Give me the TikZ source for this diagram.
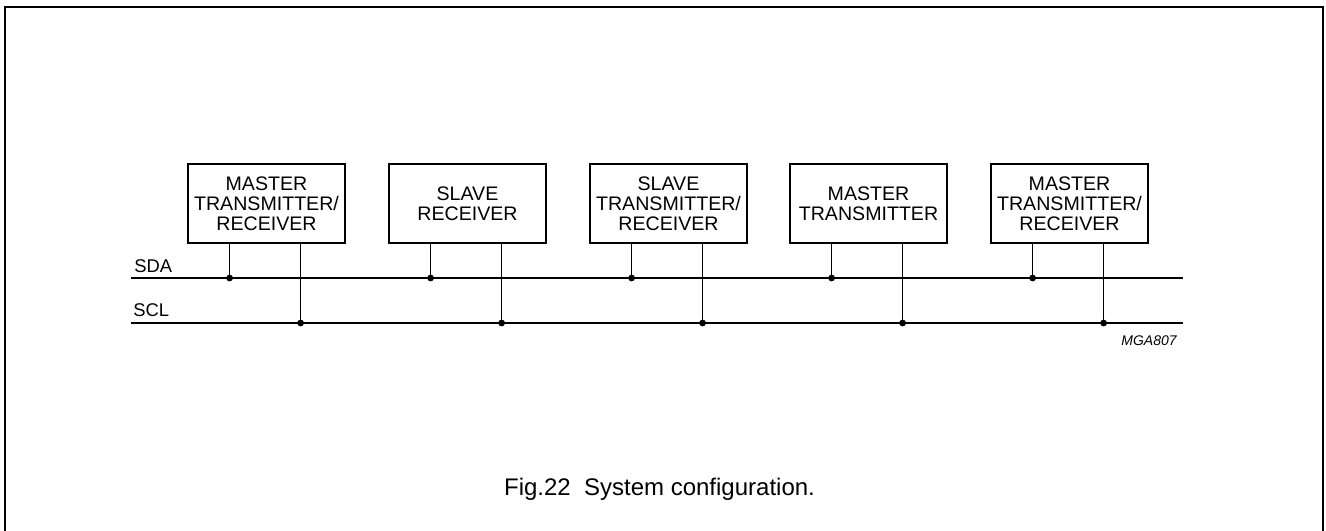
\documentclass[tikz,border=0pt]{standalone}
\usepackage{fontspec}
\setmainfont{Liberation Sans}
\usetikzlibrary{calc}
\begin{document}
\begin{tikzpicture}[x=0.5pt,y=-0.5pt,
  unit/.style={draw,line width=1.4pt,minimum width=78.5pt,minimum height=39.5pt,inner sep=0pt,
    align=center,font=\fontsize{9.8}{10}\selectfont},
  bus/.style={line width=0.75pt},
  tap/.style={line width=0.75pt},
  dot/.style={circle,fill,inner sep=0pt,minimum size=3.4pt},
  lbl/.style={font=\fontsize{9.2}{10}\selectfont,anchor=base west,inner sep=0pt},
]
\useasboundingbox (0,0) rectangle (1326,530);
\draw[line width=1pt] (5,7) rectangle (1323,540);

\coordinate (sdaL) at (131,278);
\coordinate (sdaR) at (1183,278);
\coordinate (sclL) at (131,323);
\coordinate (sclR) at (1183,323);
\draw[bus] (sdaL) -- (sdaR);
\draw[bus] (sclL) -- (sclR);
\node[lbl] (sda) at (134,272) {SDA};
\node[lbl] (scl) at (133,316) {SCL};

\node[unit] (b1) at (266.5,203.5) {MASTER\\TRANSMITTER/\\RECEIVER};
\node[unit] (b2) at (467.5,203.5) {SLAVE\\RECEIVER};
\node[unit] (b3) at (668.5,203.5) {SLAVE\\TRANSMITTER/\\RECEIVER};
\node[unit] (b4) at (868.5,203.5) {MASTER\\TRANSMITTER};
\node[unit] (b5) at (1069.5,203.5) {MASTER\\TRANSMITTER/\\RECEIVER};

\foreach \b in {b1,b2,b3,b4,b5}{
  \coordinate (\b da) at ($(\b.south west)+(43,0)$);
  \coordinate (\b cl) at ($(\b.south west)+(114,0)$);
  \draw[tap] (\b da) -- (\b da |- sdaL) node[dot] {};
  \draw[tap] (\b cl) -- (\b cl |- sclL) node[dot] {};
}

\node[font=\fontsize{7}{8}\selectfont\itshape,anchor=base east,inner sep=0pt] (code) at (1177,345) {MGA807};
\node[font=\fontsize{12}{14}\selectfont,anchor=base,inner sep=0pt] (cap) at (659.5,495) {Fig.22\ \ System configuration.};
\end{tikzpicture}
\end{document}
